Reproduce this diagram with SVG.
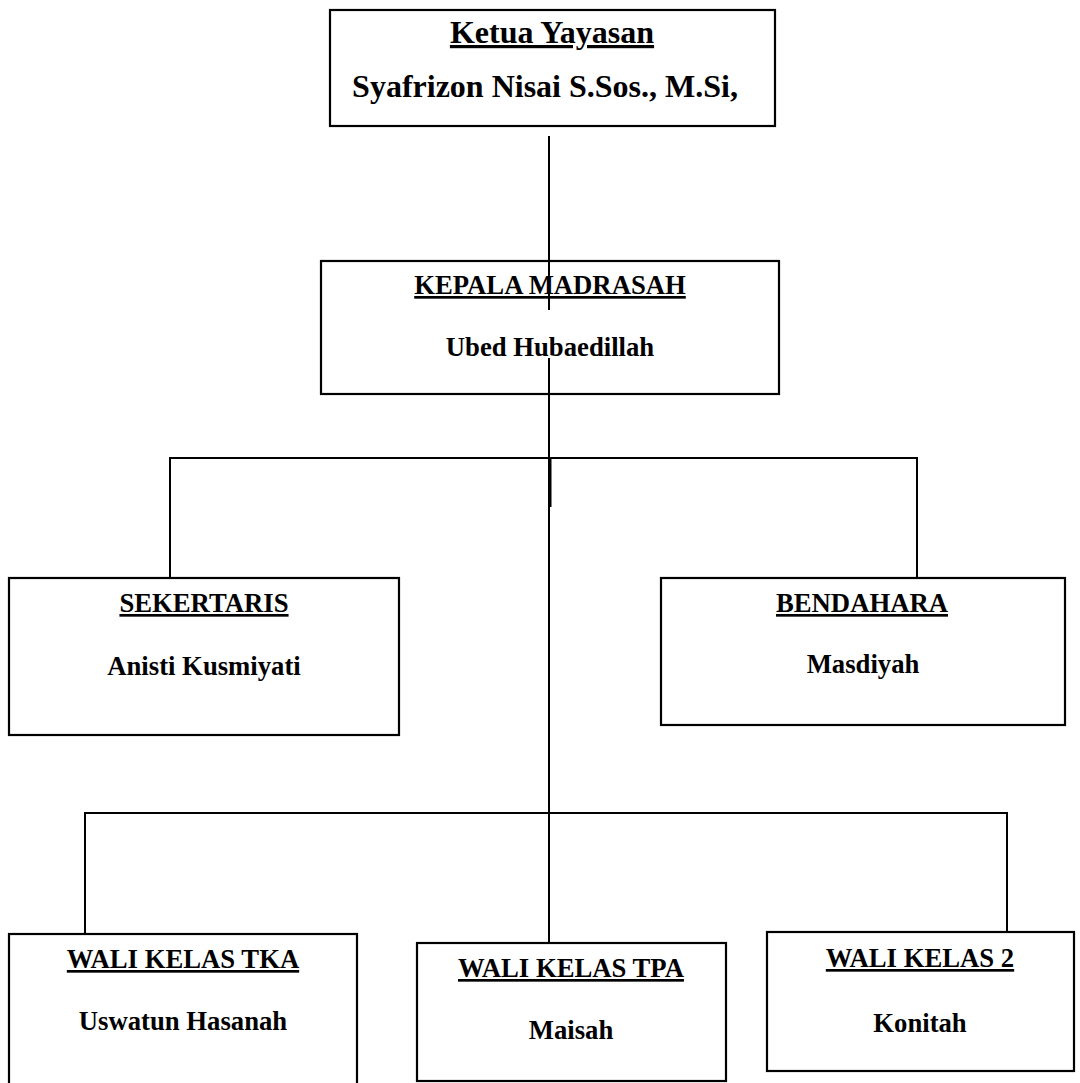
<svg xmlns="http://www.w3.org/2000/svg" width="1080" height="1083" viewBox="0 0 1080 1083">
<style>
.box{fill:#fff;stroke:#000;stroke-width:2.2}
.ln{stroke:#000;stroke-width:2;fill:none}
text{font-family:"Liberation Serif","Times New Roman",serif;font-weight:bold;fill:#000;text-anchor:middle}
.t1{font-size:32px}
.t2{font-size:26.7px}
.u{text-decoration:underline}
</style>
<rect width="1080" height="1083" fill="#fff"/>
<g id="ketua">
<rect class="box" x="330" y="10" width="445" height="116"/>
<text class="t1 u" x="552" y="43">Ketua Yayasan</text>
<text class="t1" x="545" y="97">Syafrizon Nisai S.Sos., M.Si,</text>
</g>
<g id="kepala">
<rect class="box" x="321" y="261" width="458" height="133"/>
<text class="t2 u" x="550" y="294">KEPALA MADRASAH</text>
<text class="t2" x="550" y="356">Ubed Hubaedillah</text>
</g>
<g id="sekertaris">
<rect class="box" x="9" y="578" width="390" height="157"/>
<text class="t2 u" x="204" y="612">SEKERTARIS</text>
<text class="t2" x="204" y="675">Anisti Kusmiyati</text>
</g>
<g id="bendahara">
<rect class="box" x="661" y="578" width="404" height="147"/>
<text class="t2 u" x="862" y="612">BENDAHARA</text>
<text class="t2" x="863" y="673">Masdiyah</text>
</g>
<g id="wali-tka">
<rect class="box" x="9" y="934" width="348" height="160"/>
<text class="t2 u" x="183" y="968">WALI KELAS TKA</text>
<text class="t2" x="183" y="1030">Uswatun Hasanah</text>
</g>
<g id="wali-tpa">
<rect class="box" x="417" y="943" width="309" height="138"/>
<text class="t2 u" x="571" y="977">WALI KELAS TPA</text>
<text class="t2" x="571" y="1039">Maisah</text>
</g>
<g id="wali-2">
<rect class="box" x="767" y="932" width="307" height="139"/>
<text class="t2 u" x="920" y="967">WALI KELAS 2</text>
<text class="t2" x="920" y="1032">Konitah</text>
</g>
<g id="connectors">
<line class="ln" x1="549" y1="136" x2="549" y2="310"/>
<line class="ln" x1="549" y1="358" x2="549" y2="943"/>
<line class="ln" x1="550.5" y1="458" x2="550.5" y2="507"/>
<polyline class="ln" points="170,578 170,458 917,458 917,578"/>
<polyline class="ln" points="85,934 85,813 1007,813 1007,932"/>
</g>
</svg>
